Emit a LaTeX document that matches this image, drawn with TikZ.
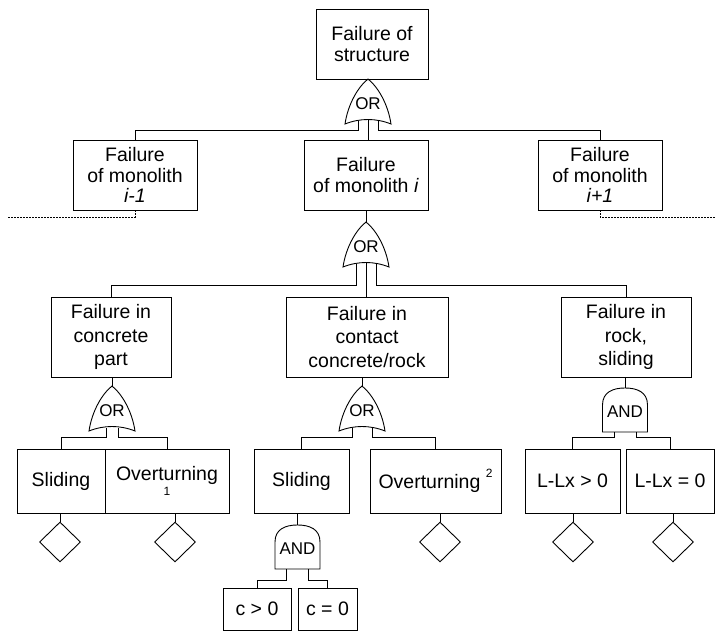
\documentclass[tikz,border=0pt]{standalone}
\usepackage{fontspec}
\setmainfont{Liberation Sans}
\usepackage{tikz}
\usetikzlibrary{shapes.geometric}

\tikzset{
  wire/.style={line width=0.9pt},
  block/.style={draw, rectangle, black, line width=0.9pt, align=center, inner sep=0pt,
    font=\fontsize{19.5}{20.5}\selectfont},
  tallblock/.style={block, font=\fontsize{19.5}{23.5}\selectfont},
  event/.style={draw, diamond, line width=0.9pt, minimum width=41pt, minimum height=40pt, inner sep=0pt},
  gatelbl/.style={inner sep=0pt, font=\fontsize{17}{17}\selectfont},
  orgate/.pic={
    \draw[wire] (-23,45) .. controls (-20,25) and (-10,8) .. (0,0)
      .. controls (10,8) and (20,25) .. (23,45)
      .. controls (8,39) and (-8,39) .. cycle;
    \node[gatelbl] (-lbl) at (0,25) {OR};
    \coordinate (-top) at (0,0);
    \coordinate (-l) at (-#1,42);
    \coordinate (-c) at (0,41);
    \coordinate (-r) at (#1,42);
  },
  andgate/.pic={
    \draw[wire] (-22.5,44) -- (-22.5,17) .. controls (-22.5,4) and (-12,0) .. (0,0)
      .. controls (12,0) and (22.5,4) .. (22.5,17) -- (22.5,44) -- cycle;
    \node[gatelbl] (-lbl) at (0,24) {AND};
    \coordinate (-top) at (0,0);
    \coordinate (-l) at (-11,44);
    \coordinate (-r) at (11,44);
  }
}

\begin{document}
\begin{tikzpicture}[x=1pt, y=-1pt]
\useasboundingbox (0,0) rectangle (715,631);

% events
\node[block, minimum width=112pt, minimum height=70pt] (top) at (372,44) {Failure of\\structure};
\node[block, minimum width=124pt, minimum height=70pt] (monoL) at (135,175) {Failure\\of monolith\\\textit{i-1}};
\node[block, minimum width=124pt, minimum height=70pt] (monoM) at (366,175) {Failure\\of monolith \textit{i}};
\node[block, minimum width=124pt, minimum height=70pt] (monoR) at (600,175) {Failure\\of monolith\\\textit{i+1}};

\node[tallblock, minimum width=120pt, minimum height=80pt] (conc) at (111,337) {Failure in\\concrete\\part};
\node[tallblock, minimum width=162pt, minimum height=80pt] (cont) at (367,337) {Failure in\\contact\\concrete/rock};
\node[tallblock, minimum width=130pt, minimum height=80pt] (rock) at (626,337) {Failure in\\rock,\\sliding};

\node[block, minimum width=88pt, minimum height=64pt] (slideA) at (61,481) {Sliding};
\node[block, minimum width=124pt, minimum height=64pt] (overA) at (167,481) {Overturning\\[-5pt]{\fontsize{12}{12}\selectfont 1}};
\node[block, minimum width=95pt, minimum height=64pt] (slideB) at (301.5,481) {Sliding};
\node[block, minimum width=131pt, minimum height=64pt] (overB) at (435.5,481) {Overturning~\raisebox{1.1ex}{\fontsize{12}{12}\selectfont 2}};
\node[block, minimum width=95pt, minimum height=64pt] (lpos) at (572.5,481) {L-Lx > 0};
\node[block, minimum width=88pt, minimum height=64pt] (lzero) at (670,481) {L-Lx = 0};

\node[block, minimum width=68pt, minimum height=42pt] (cpos) at (257,609) {c > 0};
\node[block, minimum width=59pt, minimum height=42pt] (czero) at (327.5,609) {c = 0};

\node[event] (dA) at (60,542) {};
\node[event] (dB) at (175,542) {};
\node[event] (dC) at (440,542) {};
\node[event] (dD) at (573,542) {};
\node[event] (dE) at (673,542) {};

\coordinate (lend) at (7,217);
\coordinate (rend) at (715,217);

% gates
\pic (g1) at (368,79) {orgate=10};
\pic (g2) at (366,222) {orgate=10};
\pic (g3) at (112,386) {orgate=6};
\pic (g4) at (362,386) {orgate=10};
\pic (g5) at (625,388) {andgate};
\pic (g6) at (297.5,525) {andgate};

% connectors
\draw[wire] (g1-top) -- (g1-top |- top.south);
\draw[wire] (g1-l) |- ([yshift=9pt]monoL.north) -- (monoL.north);
\draw[wire] (g1-c) -- (g1-c |- monoM.north);
\draw[wire] (g1-r) |- ([yshift=9pt]monoR.north) -- (monoR.north);
\draw[wire, dash pattern=on 2pt off 1pt] (monoL.south) |- (lend);
\draw[wire, dash pattern=on 2pt off 1pt] (monoR.south) |- (rend);

\draw[wire] (g2-top) -- (g2-top |- monoM.south);
\draw[wire] (g2-l) |- ([yshift=11pt]conc.north) -- (conc.north);
\draw[wire] (g2-c) -- (g2-c |- cont.north);
\draw[wire] (g2-r) |- ([yshift=11pt]rock.north) -- (rock.north);

\draw[wire] (g3-top) -- (g3-top |- conc.south);
\draw[wire] (g4-top) -- (g4-top |- cont.south);
\draw[wire] (g5-top) -- (g5-top |- rock.south);

\draw[wire] (g3-l) |- ([yshift=11pt]slideA.north) -- (slideA.north);
\draw[wire] (g3-r) |- ([yshift=11pt]overA.north) -- (overA.north);
\draw[wire] (g4-l) |- ([yshift=11pt]slideB.north) -- (slideB.north);
\draw[wire] (g4-r) |- ([yshift=11pt]overB.north) -- (overB.north);
\draw[wire] (g5-l) |- ([yshift=11pt]lpos.north) -- (lpos.north);
\draw[wire] (g5-r) |- ([yshift=11pt]lzero.north) -- (lzero.north);

\draw[wire] (g6-top) -- (g6-top |- slideB.south);
\draw[wire] (g6-l) |- ([yshift=7pt]cpos.north) -- (cpos.north);
\draw[wire] (g6-r) |- ([yshift=7pt]czero.north) -- (czero.north);

\draw[wire] (dA.north) -- (dA.north |- slideA.south);
\draw[wire] (dB.north) -- (dB.north |- overA.south);
\draw[wire] (dC.north) -- (dC.north |- overB.south);
\draw[wire] (dD.north) -- (dD.north |- lpos.south);
\draw[wire] (dE.north) -- (dE.north |- lzero.south);
\end{tikzpicture}
\end{document}
